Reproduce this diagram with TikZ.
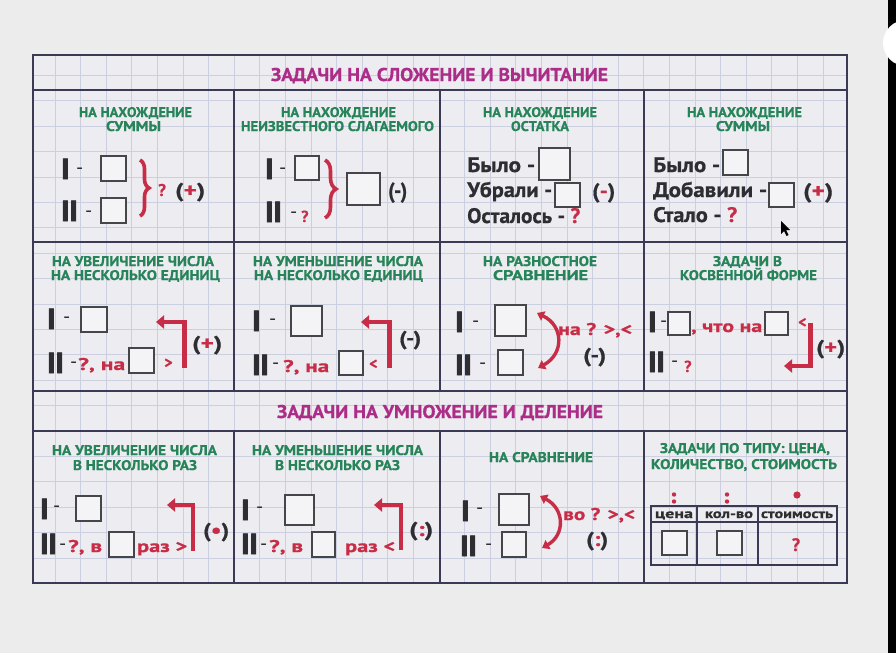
\documentclass[tikz,border=0pt]{standalone}
\usepackage{fontspec}
\usepackage{graphicx}
\setmainfont{PT Sans}[BoldFeatures={FakeBold=0.7}]
\newfontfamily\romfont{PT Sans}[BoldFeatures={FakeBold=3}]
\usetikzlibrary{arrows.meta,decorations.pathreplacing}
\definecolor{bgc}{RGB}{236,236,236}
\definecolor{tblbg}{RGB}{236,236,241}
\definecolor{gridc}{RGB}{204,207,223}
\definecolor{linec}{RGB}{58,58,84}
\definecolor{ttlc}{RGB}{172,45,135}
\definecolor{grnc}{RGB}{38,132,88}
\definecolor{redc}{RGB}{200,45,72}
\definecolor{txtc}{RGB}{45,45,50}
\definecolor{boxc}{RGB}{70,70,74}
\definecolor{boxf}{RGB}{244,244,246}
\newcommand\fw[2]{\resizebox{#1pt}{\height}{#2}}
\newcommand\rd[1]{\textcolor{redc}{#1}}
\tikzset{
  ttl/.style={font=\fontsize{18.5}{18.5}\selectfont\bfseries, text=ttlc, inner sep=0pt, anchor=base},
  grn/.style={font=\fontsize{14}{14}\selectfont\bfseries, text=grnc, inner sep=0pt, anchor=base},
  body/.style={font=\fontsize{21}{21}\selectfont\bfseries, text=txtc, inner sep=0pt, anchor=base west},
  rom/.style={font=\romfont\bfseries\fontsize{29}{29}\selectfont, text=txtc, inner sep=0pt, anchor=base west},
  hy/.style={font=\fontsize{20}{20}\selectfont, text=txtc, inner sep=0pt, anchor=base west},
  rtx/.style={font=\fontsize{17}{17}\selectfont\bfseries, text=redc, inner sep=0pt, anchor=base west},
  op/.style={font=\fontsize{20}{20}\selectfont\bfseries, text=txtc, inner sep=0pt, anchor=base west},
  hdr/.style={font=\fontsize{13}{13}\selectfont\bfseries, text=txtc, inner sep=0pt, anchor=base},
  bx/.style 2 args={draw=boxc, line width=1.4pt, fill=boxf, inner sep=0pt, minimum width=#1pt, minimum height=#2pt},
  tline/.style={draw=linec, line width=2.5pt},
  gridl/.style={draw=gridc, line width=0.8pt},
  brc/.style={draw=redc, line width=3.6pt, decorate, decoration={brace, amplitude=#1pt}},
  rarr/.style={draw=redc, line width=4.5pt, -{Triangle[length=8pt,width=13pt]}},
  carr/.style={draw=redc, line width=3.4pt, {Triangle[length=7pt,width=10pt]}-{Triangle[length=7pt,width=10pt]}},
}
\begin{document}
\begin{tikzpicture}[x=1pt,y=-1pt]
\useasboundingbox (0,0) rectangle (896,653);
\fill[bgc] (0,0) rectangle (896,653);
% table background and grid
\fill[tblbg] (33,55) rectangle (847,583);
\begin{scope}
\clip (33,55) rectangle (847,583);
\foreach \i in {-1,...,32} \draw[gridl] ({55+25.6*\i},55) -- ({55+25.6*\i},583);
\foreach \j in {0,...,21} \draw[gridl] (33,{50+25.4*\j}) -- (847,{50+25.4*\j});
\end{scope}
% table lines
\draw[tline] (33,55) rectangle (847,583);
\draw[tline] (33,90) -- (847,90);
\draw[tline] (33,242) -- (847,242);
\draw[tline] (33,391) -- (847,391);
\draw[tline] (33,431) -- (847,431);
\foreach \x in {234,440,644} {
  \draw[tline] (\x,90) -- (\x,391);
  \draw[tline] (\x,431) -- (\x,583);
}
% titles
\node[ttl] (t1) at (439.5,81) {\fw{337}{ЗАДАЧИ НА СЛОЖЕНИЕ И ВЫЧИТАНИЕ}};
\node[ttl] (t2) at (440,418) {\fw{326}{ЗАДАЧИ НА УМНОЖЕНИЕ И ДЕЛЕНИЕ}};
% headings row 1
\node[grn] (h1a) at (135.5,117) {\fw{113}{НА НАХОЖДЕНИЕ}};
\node[grn] (h1b) at (133.5,131) {\fw{55}{СУММЫ}};
\node[grn] (h2a) at (338.5,117) {\fw{115}{НА НАХОЖДЕНИЕ}};
\node[grn] (h2b) at (337.5,131) {\fw{193}{НЕИЗВЕСТНОГО СЛАГАЕМОГО}};
\node[grn] (h3a) at (540,117) {\fw{114}{НА НАХОЖДЕНИЕ}};
\node[grn] (h3b) at (540,131) {\fw{58}{ОСТАТКА}};
\node[grn] (h4a) at (744.5,117) {\fw{115}{НА НАХОЖДЕНИЕ}};
\node[grn] (h4b) at (743,131) {\fw{54}{СУММЫ}};
% headings row 2
\node[grn] (h5a) at (133,266) {\fw{162}{НА УВЕЛИЧЕНИЕ ЧИСЛА}};
\node[grn] (h5b) at (135.5,280) {\fw{169}{НА НЕСКОЛЬКО ЕДИНИЦ}};
\node[grn] (h6a) at (338,266) {\fw{170}{НА УМЕНЬШЕНИЕ ЧИСЛА}};
\node[grn] (h6b) at (338.5,280) {\fw{169}{НА НЕСКОЛЬКО ЕДИНИЦ}};
\node[grn] (h7a) at (540,266) {\fw{114}{НА РАЗНОСТНОЕ}};
\node[grn] (h7b) at (540.5,280) {\fw{95}{СРАВНЕНИЕ}};
\node[grn] (h8a) at (747.5,266) {\fw{69}{ЗАДАЧИ В}};
\node[grn] (h8b) at (748.5,280) {\fw{137}{КОСВЕННОЙ ФОРМЕ}};
% headings row 3
\node[grn] (h9a) at (134.5,455) {\fw{165}{НА УВЕЛИЧЕНИЕ ЧИСЛА}};
\node[grn] (h9b) at (135,470) {\fw{124}{В НЕСКОЛЬКО РАЗ}};
\node[grn] (h10a) at (337.5,455) {\fw{171}{НА УМЕНЬШЕНИЕ ЧИСЛА}};
\node[grn] (h10b) at (337.5,470) {\fw{125}{В НЕСКОЛЬКО РАЗ}};
\node[grn] (h11a) at (541,462) {\fw{104}{НА СРАВНЕНИЕ}};
\node[grn] (h12a) at (745,453) {\fw{170}{ЗАДАЧИ ПО ТИПУ: ЦЕНА,}};
\node[grn] (h12b) at (744,469) {\fw{186}{КОЛИЧЕСТВО, СТОИМОСТЬ}};

% ---- cell 1
\node[rom] (c1i) at (61,179) {I};
\node[hy] (c1h) at (76,174.5) {-};
\node[bx={25}{25}] (c1a) at (113.5,168.5) {};
\node[rom] (c1ii) at (61,221) {II};
\node[hy] (c1hh) at (85,217) {-};
\node[bx={25}{25}] (c1b) at (113.5,210.5) {};
\coordinate (c1t) at (140,160);
\coordinate (c1u) at (140,216);
\draw[brc=9] (c1t) -- (c1u);
\node[rtx] (c1q) at (158,196) {?};
\node[op] (c1o) at (175,197) {\fw{30}{(\rd{+})}};
% ---- cell 2
\node[rom] (c2i) at (265,179) {I};
\node[hy] (c2h) at (279,174.5) {-};
\node[bx={24}{24}] (c2a) at (307,168) {};
\node[rom] (c2ii) at (265,222) {II};
\node[hy] (c2hh) at (290,218) {-};
\node[rtx, font=\fontsize{16}{16}\selectfont\bfseries] (c2q) at (301,222) {?};
\coordinate (c2t) at (325,160);
\coordinate (c2u) at (325,218);
\draw[brc=11] (c2t) -- (c2u);
\node[bx={33}{32}] (c2c) at (363.5,189) {};
\node[op, font=\fontsize{22}{22}\selectfont\bfseries] (c2o) at (388,198) {\fw{19}{(-)}};
% ---- cell 3
\node[body] (c3a) at (467,172) {\fw{68}{Было -}};
\node[bx={31}{32}] (c3ab) at (554.5,164) {};
\node[body] (c3b) at (467,197) {\fw{85}{Убрали -}};
\node[bx={25}{24}] (c3bb) at (567.5,195) {};
\node[op, font=\fontsize{21}{21}\selectfont\bfseries] (c3o) at (592,198) {\fw{23}{(\rd{-})}};
\node[body] (c3c) at (467,223) {\fw{113}{Осталось - \rd{?}}};
% ---- cell 4
\node[body] (c4a) at (653,172) {\fw{67}{Было -}};
\node[bx={25}{25}] (c4ab) at (735.5,162.5) {};
\node[body] (c4b) at (653,197) {\fw{114}{Добавили -}};
\node[bx={25}{24}] (c4bb) at (781.5,195) {};
\node[op, font=\fontsize{21}{21}\selectfont\bfseries] (c4o) at (803,198) {\fw{30}{(\rd{+})}};
\node[body] (c4c) at (653,222) {\fw{84}{Стало - \rd{?}}};
\fill[black] (781,221) -- (781,234) -- (784,231) -- (786.5,236) -- (788.5,235) -- (786,230) -- (790,230) -- cycle;
% ---- cell 5
\node[rom] (c5i) at (47,329) {I};
\node[hy] (c5h) at (63,323.5) {-};
\node[bx={26}{25}] (c5a) at (94,319.5) {};
\node[rom] (c5ii) at (47,373) {II};
\node[hy] (c5hh) at (70,368) {-};
\node[rtx] (c5t) at (78,370) {\fw{47}{?, на}};
\node[bx={25}{25}] (c5b) at (141.5,360.5) {};
\node[rtx, font=\fontsize{16}{16}\selectfont\bfseries] (c5g) at (164,368) {>};
\coordinate (c5s) at (184.5,368);
\coordinate (c5e) at (156,322);
\draw[rarr] (c5s) |- (c5e);
\node[op] (c5o) at (192,350) {\fw{30}{(\rd{+})}};
% ---- cell 6
\node[rom] (c6i) at (252,331) {I};
\node[hy] (c6h) at (269,325) {-};
\node[bx={31}{30}] (c6a) at (306.5,321) {};
\node[rom] (c6ii) at (252,375) {II};
\node[hy] (c6hh) at (272,369.5) {-};
\node[rtx] (c6t) at (283,372) {\fw{46}{?, на}};
\node[bx={24}{24}] (c6b) at (351,363) {};
\node[rtx, font=\fontsize{16}{16}\selectfont\bfseries] (c6g) at (369,369) {<};
\coordinate (c6s) at (389.5,368);
\coordinate (c6e) at (361,322);
\draw[rarr] (c6s) |- (c6e);
\node[op] (c6o) at (399,345) {\fw{22}{(-)}};
% ---- cell 7
\node[rom] (c7i) at (455,332) {I};
\node[hy] (c7h) at (472,327) {-};
\node[bx={31}{31}] (c7a) at (510.5,320.5) {};
\node[rom] (c7ii) at (455,375) {II};
\node[hy] (c7hh) at (479,369.5) {-};
\node[bx={25}{25}] (c7b) at (510.5,362.5) {};
\coordinate (c7s) at (537,313);
\coordinate (c7e) at (538,368);
\draw[carr] (c7s) .. controls (564,326) and (564,354) .. (c7e);
\node[rtx] (c7t) at (558,335) {\fw{74}{на ? >,<}};
\node[op] (c7o) at (583,362) {\fw{23}{(-)}};
% ---- cell 8
\node[rom] (c8i) at (648,332) {I};
\node[hy] (c8h) at (660,327) {-};
\node[bx={22}{23}] (c8a) at (679,323.5) {};
\node[rtx] (c8t) at (691,332) {\fw{71}{, что на}};
\node[bx={23}{23}] (c8b) at (776.5,323.5) {};
\node[rtx, font=\fontsize{16}{16}\selectfont\bfseries] (c8g) at (798,327.5) {<};
\coordinate (c8s) at (810.5,323);
\coordinate (c8e) at (784,366);
\draw[rarr] (c8s) |- (c8e);
\node[op] (c8o) at (816,354) {\fw{29}{(\rd{+})}};
\node[rom] (c8ii) at (648,372) {II};
\node[hy] (c8hh) at (671,367) {-};
\node[rtx, font=\fontsize{16}{16}\selectfont\bfseries] (c8q) at (684,372) {?};
% ---- cell 9
\node[rom] (c9i) at (40,519) {I};
\node[hy] (c9h) at (53,512) {-};
\node[bx={25}{25}] (c9a) at (88.5,508.5) {};
\node[rom] (c9ii) at (40,554) {II};
\node[hy] (c9hh) at (59,550) {-};
\node[rtx] (c9t) at (68,552) {\fw{34}{?, в}};
\node[bx={25}{25}] (c9b) at (121.5,544.5) {};
\node[rtx] (c9r) at (137,552) {\fw{50}{раз >}};
\coordinate (c9s) at (193,551);
\coordinate (c9e) at (167,505);
\draw[rarr] (c9s) |- (c9e);
\node[op] (c9o) at (203,537) {\fw{26}{(\rd{•})}};
% ---- cell 10
\node[rom] (c10i) at (241,520) {I};
\node[hy] (c10h) at (256,513.5) {-};
\node[bx={29}{30}] (c10a) at (299.5,510) {};
\node[rom] (c10ii) at (241,554) {II};
\node[hy] (c10hh) at (260,550) {-};
\node[rtx] (c10t) at (269,552) {\fw{34}{?, в}};
\node[bx={23}{25}] (c10b) at (323.5,544.5) {};
\node[rtx] (c10r) at (345,552) {\fw{50}{раз <}};
\coordinate (c10s) at (401,550);
\coordinate (c10e) at (374,505);
\draw[rarr] (c10s) |- (c10e);
\node[op] (c10o) at (409,536) {\fw{24}{(\rd{:})}};
% ---- cell 11
\node[rom] (c11i) at (461,521) {I};
\node[hy] (c11h) at (476,514.5) {-};
\node[bx={30}{31}] (c11a) at (514,509.5) {};
\node[rom] (c11ii) at (460,556) {II};
\node[hy] (c11hh) at (485,550.5) {-};
\node[bx={24}{25}] (c11b) at (514,544.5) {};
\coordinate (c11s) at (540,496);
\coordinate (c11e) at (542,548);
\draw[carr] (c11s) .. controls (565,509) and (565,535) .. (c11e);
\node[rtx] (c11t) at (563,520) {\fw{72}{во ? >,<}};
\node[op] (c11o) at (586,546) {\fw{22}{(\rd{:})}};
% ---- cell 12
\fill[redc] (674,494.5) circle (2.2) (674,501.5) circle (2.2);
\fill[redc] (727,494.5) circle (2.2) (727,501.5) circle (2.2);
\fill[redc] (797,495) circle (3.6);
\draw[draw=linec, line width=1.6pt] (651,506) rectangle (837,565);
\draw[draw=linec, line width=1.6pt] (651,522) -- (837,522);
\draw[draw=linec, line width=1.6pt] (697,506) -- (697,565);
\draw[draw=linec, line width=1.6pt] (758,506) -- (758,565);
\node[hdr] (c12h1) at (674,518) {\fw{38}{цена}};
\node[hdr] (c12h2) at (729,518) {\fw{48}{кол-во}};
\node[hdr] (c12h3) at (797,518) {\fw{72}{стоимость}};
\node[bx={25}{24}] (c12a) at (674.5,543) {};
\node[bx={25}{24}] (c12b) at (729.5,543) {};
\node[rtx, font=\fontsize{18}{18}\selectfont\bfseries, anchor=base] (c12q) at (796,551) {?};
% phone frame
\fill[black] (888,0) rectangle (896,653);
\begin{scope}
\clip (0,0) rectangle (896,653);
\fill[white] (906,43) circle (23);
\end{scope}
\end{tikzpicture}
\end{document}
